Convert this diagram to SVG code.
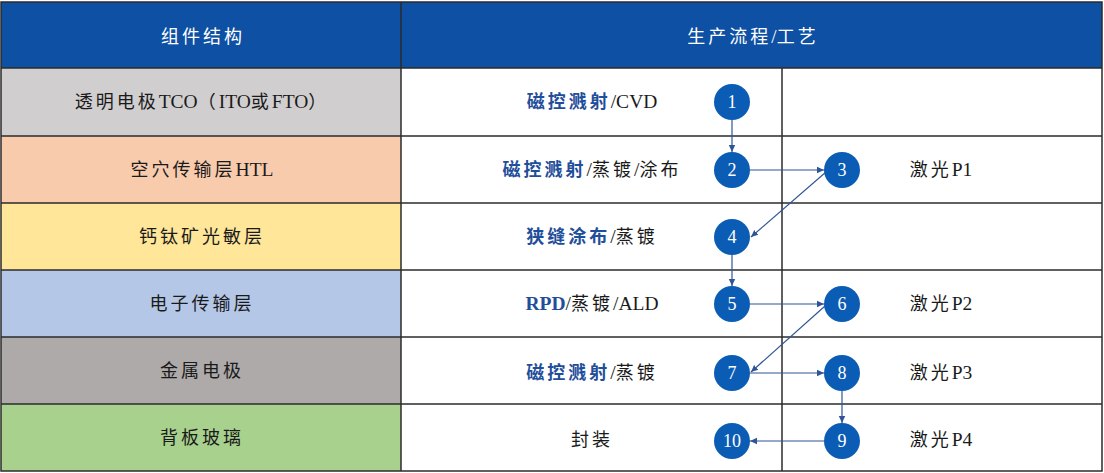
<svg xmlns="http://www.w3.org/2000/svg" width="1104" height="473" viewBox="0 0 1104 473">
<style>
.grid{stroke:#2b2b2b;stroke-width:1.5;fill:none}
.hdr{font-family:"Liberation Serif","Noto Sans CJK SC",serif;font-size:19px;fill:#fff;text-anchor:middle}
.t{font-family:"Liberation Serif","Noto Sans CJK SC",serif;font-size:19.5px;fill:#1a1a1a;text-anchor:middle}
.k{letter-spacing:3px;font-size:18px}
.b{fill:#1f4e9a;font-weight:bold}
.c{fill:#0b5cb4}
.n{font-family:"Liberation Serif",serif;font-size:18px;fill:#fff;text-anchor:middle}
.e{stroke:#2f5597;stroke-width:1.2;fill:none;marker-end:url(#ah)}
</style>
<defs>
<marker id="ah" markerWidth="8" markerHeight="8" refX="7" refY="4" orient="auto" markerUnits="userSpaceOnUse">
<path d="M0,0.8 L7,4 L0,7.2 Z" fill="#2f5597"/>
</marker>
</defs>
<rect x="0" y="0" width="1104" height="473" fill="#fff"/>
<g id="header">
<rect x="1" y="2" width="1101" height="66" fill="#0d50a4"/>
<text class="hdr" x="203" y="43"><tspan class="k">组件结构</tspan></text>
<text class="hdr" x="753" y="43"><tspan class="k">生产流程</tspan>/<tspan class="k">工艺</tspan></text>
</g>
<g id="layers">
<rect x="1" y="68" width="400" height="68" fill="#d0cece"/>
<rect x="1" y="136" width="400" height="67" fill="#f8cbad"/>
<rect x="1" y="203" width="400" height="67" fill="#ffe699"/>
<rect x="1" y="270" width="400" height="67" fill="#b4c7e7"/>
<rect x="1" y="337" width="400" height="67" fill="#aeaaaa"/>
<rect x="1" y="404" width="400" height="67" fill="#a9d18e"/>
<text class="t" x="202" y="108"><tspan class="k">透明电极</tspan>TCO<tspan class="k">（</tspan>ITO<tspan class="k">或</tspan>FTO<tspan class="k">）</tspan></text>
<text class="t" x="202" y="176"><tspan class="k">空穴传输层</tspan>HTL</text>
<text class="t" x="202" y="243"><tspan class="k">钙钛矿光敏层</tspan></text>
<text class="t" x="202" y="310"><tspan class="k">电子传输层</tspan></text>
<text class="t" x="202" y="377"><tspan class="k">金属电极</tspan></text>
<text class="t" x="202" y="444"><tspan class="k">背板玻璃</tspan></text>
</g>
<g id="grid">
<rect class="grid" x="1" y="2" width="1101" height="469"/>
<line class="grid" x1="401" y1="2" x2="401" y2="471"/>
<line class="grid" x1="782" y1="68" x2="782" y2="471"/>
<line class="grid" x1="1" y1="68" x2="1102" y2="68"/>
<line class="grid" x1="1" y1="136" x2="1102" y2="136"/>
<line class="grid" x1="1" y1="203" x2="1102" y2="203"/>
<line class="grid" x1="1" y1="270" x2="1102" y2="270"/>
<line class="grid" x1="1" y1="337" x2="1102" y2="337"/>
<line class="grid" x1="1" y1="404" x2="1102" y2="404"/>
</g>
<g id="processes">
<text class="t" x="592" y="108"><tspan class="b k">磁控溅射</tspan>/CVD</text>
<text class="t" x="592" y="176"><tspan class="b k">磁控溅射</tspan>/<tspan class="k">蒸镀</tspan>/<tspan class="k">涂布</tspan></text>
<text class="t" x="592" y="243"><tspan class="b k">狭缝涂布</tspan>/<tspan class="k">蒸镀</tspan></text>
<text class="t" x="592" y="310"><tspan class="b">RPD</tspan>/<tspan class="k">蒸镀</tspan>/ALD</text>
<text class="t" x="592" y="379"><tspan class="b k">磁控溅射</tspan>/<tspan class="k">蒸镀</tspan></text>
<text class="t" x="592" y="446"><tspan class="k">封装</tspan></text>
<text class="t" x="941" y="176"><tspan class="k">激光</tspan>P1</text>
<text class="t" x="941" y="310"><tspan class="k">激光</tspan>P2</text>
<text class="t" x="941" y="379"><tspan class="k">激光</tspan>P3</text>
<text class="t" x="941" y="446"><tspan class="k">激光</tspan>P4</text>
</g>
<g id="connectors">
<line class="e" x1="732" y1="120" x2="732" y2="152"/>
<line class="e" x1="750" y1="170" x2="824" y2="170"/>
<line class="e" x1="826" y1="172" x2="751" y2="237"/>
<line class="e" x1="732" y1="255" x2="732" y2="286"/>
<line class="e" x1="750" y1="304" x2="824" y2="304"/>
<line class="e" x1="825" y1="306" x2="751" y2="372"/>
<line class="e" x1="750" y1="373" x2="824" y2="373"/>
<line class="e" x1="842" y1="391" x2="842" y2="423"/>
<line class="e" x1="824" y1="441" x2="750" y2="441"/>
</g>
<g id="n1"><circle class="c" cx="732" cy="102" r="18"/><text class="n" x="732" y="108">1</text></g>
<g id="n2"><circle class="c" cx="732" cy="170" r="18"/><text class="n" x="732" y="176">2</text></g>
<g id="n3"><circle class="c" cx="842" cy="170" r="18"/><text class="n" x="842" y="176">3</text></g>
<g id="n4"><circle class="c" cx="732" cy="237" r="18"/><text class="n" x="732" y="243">4</text></g>
<g id="n5"><circle class="c" cx="732" cy="304" r="18"/><text class="n" x="732" y="310">5</text></g>
<g id="n6"><circle class="c" cx="842" cy="304" r="18"/><text class="n" x="842" y="310">6</text></g>
<g id="n7"><circle class="c" cx="732" cy="373" r="18"/><text class="n" x="732" y="379">7</text></g>
<g id="n8"><circle class="c" cx="842" cy="373" r="18"/><text class="n" x="842" y="379">8</text></g>
<g id="n9"><circle class="c" cx="842" cy="441" r="18"/><text class="n" x="842" y="447">9</text></g>
<g id="n10"><circle class="c" cx="732" cy="441" r="18"/><text class="n" x="732" y="447">10</text></g>
</svg>
